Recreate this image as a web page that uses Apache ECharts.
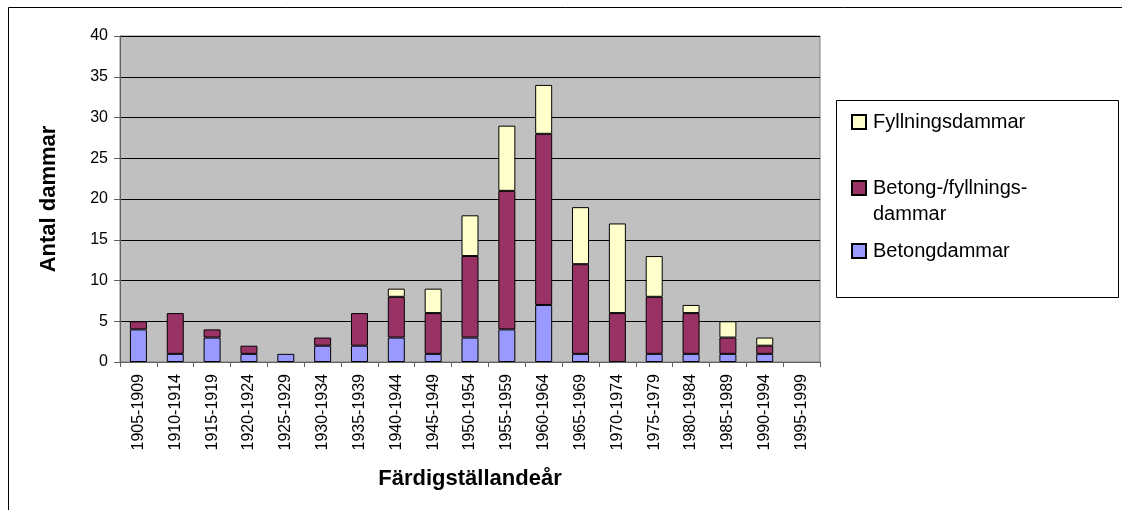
<!DOCTYPE html>
<html>
<head>
<meta charset="utf-8">
<script src="https://cdn.jsdelivr.net/npm/echarts@6/dist/echarts.min.js"></script>
<style>
  html, body { margin: 0; padding: 0; background: #fff; }
  #chart { width: 1122px; height: 510px; }
</style>
</head>
<body>
<div id="chart"></div>
<script>
var periods = ['1905-1909', '1910-1914', '1915-1919', '1920-1924', '1925-1929', '1930-1934',
    '1935-1939', '1940-1944', '1945-1949', '1950-1954', '1955-1959', '1960-1964', '1965-1969',
    '1970-1974', '1975-1979', '1980-1984', '1985-1989', '1990-1994', '1995-1999'];
var betong = [4, 1, 3, 1, 1, 2, 2, 3, 1, 3, 4, 7, 1, 0, 1, 1, 1, 1, 0];
var betongFyllning = [1, 5, 1, 1, 0, 1, 4, 5, 5, 10, 17, 21, 11, 6, 7, 5, 2, 1, 0];
var fyllning = [0, 0, 0, 0, 0, 0, 0, 1, 3, 5, 8, 6, 7, 11, 5, 1, 2, 1, 0];
var yTicks = [0, 5, 10, 15, 20, 25, 30, 35, 40];

var chartDom = document.getElementById('chart');
var myChart = echarts.init(chartDom);
var font = '"Liberation Sans", Arial, sans-serif';

// zero-height segments are left out so no stray outlines are drawn
function clean(arr) {
    return arr.map(function (v) { return v === 0 ? null : v; });
}

function barSeries(name, color, data) {
    return {
        name: name,
        type: 'bar',
        stack: 'total',
        barWidth: 17,
        itemStyle: {
            color: color,
            borderColor: '#000',
            borderWidth: 1
        },
        data: clean(data)
    };
}

function legendItem(name, top) {
    return {
        data: [name],
        orient: 'vertical',
        left: 846,
        top: top,
        icon: 'rect',
        itemWidth: 14,
        itemHeight: 14,
        itemGap: 0,
        selectedMode: false,
        formatter: function (n) {
            // extra empty line keeps the box beside the first text line
            return n.indexOf('\n') > 0 ? ' \n' + n : n;
        },
        textStyle: {
            fontFamily: font,
            fontSize: 20,
            color: '#000',
            lineHeight: 26,
            padding: [0, 0, 0, 2]
        }
    };
}

var option = {
    animation: false,
    backgroundColor: '#fff',
    graphic: [{
        type: 'rect',
        shape: { x: 8.5, y: 7.5, width: 1300, height: 700 },
        style: { fill: 'none', stroke: '#000', lineWidth: 1 },
        silent: true
    }, {
        type: 'rect',
        shape: { x: 836.5, y: 100.5, width: 282, height: 197 },
        style: { fill: '#fff', stroke: '#000', lineWidth: 1 },
        silent: true,
        z: -1
    }],
    legend: [
        legendItem('Fyllningsdammar', 104),
        legendItem('Betong-/fyllnings-\ndammar', 144),
        legendItem('Betongdammar', 233)
    ],
    grid: {
        left: 120,
        right: 302,
        top: 36,
        bottom: 148,
        show: true,
        backgroundColor: '#c0c0c0',
        borderColor: '#808080',
        borderWidth: 1
    },
    xAxis: {
        type: 'category',
        data: periods,
        name: 'Färdigställandeår',
        nameLocation: 'middle',
        nameGap: 106,
        nameTextStyle: {
            fontFamily: font,
            fontSize: 22,
            fontWeight: 'bold',
            color: '#000'
        },
        axisLine: { lineStyle: { color: '#606060', width: 1 } },
        axisTick: { show: true, length: 5, lineStyle: { color: '#606060' } },
        axisLabel: {
            rotate: 90,
            interval: 0,
            margin: 12,
            fontFamily: font,
            fontSize: 16,
            color: '#000'
        }
    },
    yAxis: {
        type: 'value',
        min: yTicks[0],
        max: yTicks[yTicks.length - 1],
        interval: yTicks[1] - yTicks[0],
        name: 'Antal dammar',
        nameLocation: 'middle',
        nameGap: 60,
        nameTextStyle: {
            fontFamily: font,
            fontSize: 22,
            fontWeight: 'bold',
            color: '#000'
        },
        axisLine: { show: true, lineStyle: { color: '#606060', width: 1 } },
        axisTick: { show: true, length: 6, lineStyle: { color: '#606060' } },
        axisLabel: {
            margin: 12,
            fontFamily: font,
            fontSize: 16,
            color: '#000'
        },
        splitLine: { lineStyle: { color: '#000', width: 1 } }
    },
    series: [
        barSeries('Betongdammar', '#9999ff', betong),
        barSeries('Betong-/fyllnings-\ndammar', '#993366', betongFyllning),
        barSeries('Fyllningsdammar', '#ffffcc', fyllning)
    ]
};

option && myChart.setOption(option);
</script>
</body>
</html>
